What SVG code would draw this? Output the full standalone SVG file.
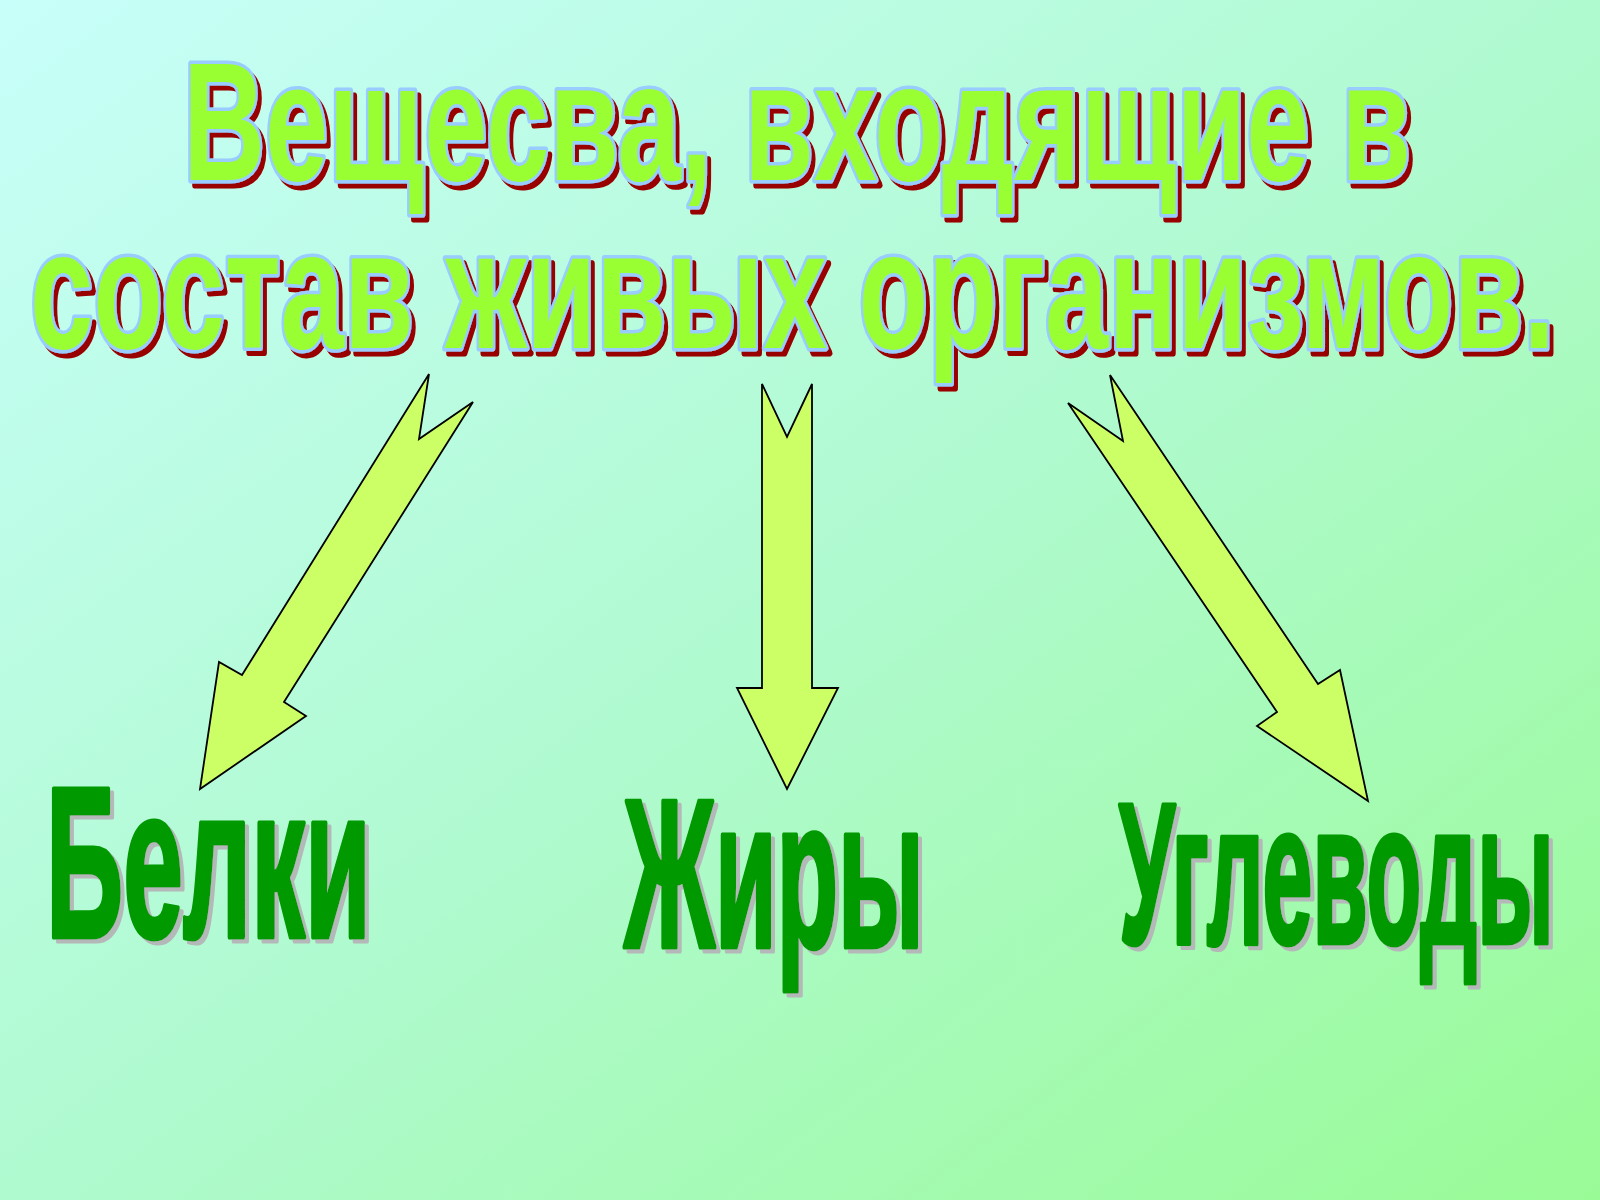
<svg xmlns="http://www.w3.org/2000/svg" width="1600" height="1200" viewBox="0 0 1600 1200">
  <defs>
    <linearGradient id="bg" x1="0" y1="0" x2="1" y2="1">
      <stop offset="0" stop-color="#c8fffa"/>
      <stop offset="0.5" stop-color="#b0fad0"/>
      <stop offset="1" stop-color="#99fb96"/>
    </linearGradient>
    <filter id="redShadow" x="-5%" y="-30%" width="110%" height="160%">
      <feOffset in="SourceAlpha" dx="4" dy="5" result="off"/>
      <feFlood flood-color="#990000"/>
      <feComposite in2="off" operator="in" result="sh"/>
      <feMerge><feMergeNode in="sh"/><feMergeNode in="SourceGraphic"/></feMerge>
    </filter>
    <filter id="greyShadow" x="-10%" y="-30%" width="120%" height="160%">
      <feOffset in="SourceAlpha" dx="4" dy="4" result="off"/>
      <feFlood flood-color="#b4b8b8"/>
      <feComposite in2="off" operator="in" result="sh"/>
      <feMerge><feMergeNode in="sh"/><feMergeNode in="SourceGraphic"/></feMerge>
    </filter>
  </defs>
  <style>
    .title { font-family: "Liberation Sans", "DejaVu Sans", sans-serif; font-weight: bold; font-size: 168px; fill: #99ff33; stroke: #99ccff; stroke-width: 7; stroke-linejoin: round; paint-order: stroke; vector-effect: non-scaling-stroke; }
    .label { font-family: "Liberation Sans", "DejaVu Sans", sans-serif; font-weight: bold; fill: #009900; stroke: #009900; stroke-width: 4; stroke-linejoin: round; vector-effect: non-scaling-stroke; }
    .arrow { fill: #ccff66; stroke: #000000; stroke-width: 1.8; stroke-linejoin: miter; }
  </style>
  <rect x="0" y="0" width="1600" height="1200" fill="url(#bg)"/>

  <g id="title" filter="url(#redShadow)">
    <text class="title" transform="scale(0.68,1)"><tspan x="269.1" y="180" textLength="1805.9" lengthAdjust="spacingAndGlyphs">Вещесва, входящие в</tspan><tspan x="44.1" y="348" textLength="2242.6" lengthAdjust="spacingAndGlyphs">состав живых организмов.</tspan></text>
  </g>

  <g id="connectors">
    <polygon class="arrow" points="429,374 419,439 473,402 284,702 306,716 200,789 219,662 242,675"/>
    <polygon class="arrow" points="762,384 787,437 812,384 812,688 838,688 787,789 737,688 762,688"/>
    <polygon class="arrow" points="1110,375 1123,441 1068,403 1277,712 1257,726 1368,801 1340,670 1318,684"/>
  </g>

  <g id="node-belki" filter="url(#greyShadow)">
    <text class="label" transform="scale(0.5,1)" x="92" y="937" font-size="215" textLength="650" lengthAdjust="spacingAndGlyphs">Белки</text>
  </g>
  <g id="node-zhiry" filter="url(#greyShadow)">
    <text class="label" transform="scale(0.48,1)" x="1300" y="947" font-size="212" textLength="625" lengthAdjust="spacingAndGlyphs">Жиры</text>
  </g>
  <g id="node-uglevody" filter="url(#greyShadow)">
    <text class="label" transform="scale(0.45,1)" x="2486.7" y="943" font-size="200" textLength="966.7" lengthAdjust="spacingAndGlyphs">Углеводы</text>
  </g>
</svg>
